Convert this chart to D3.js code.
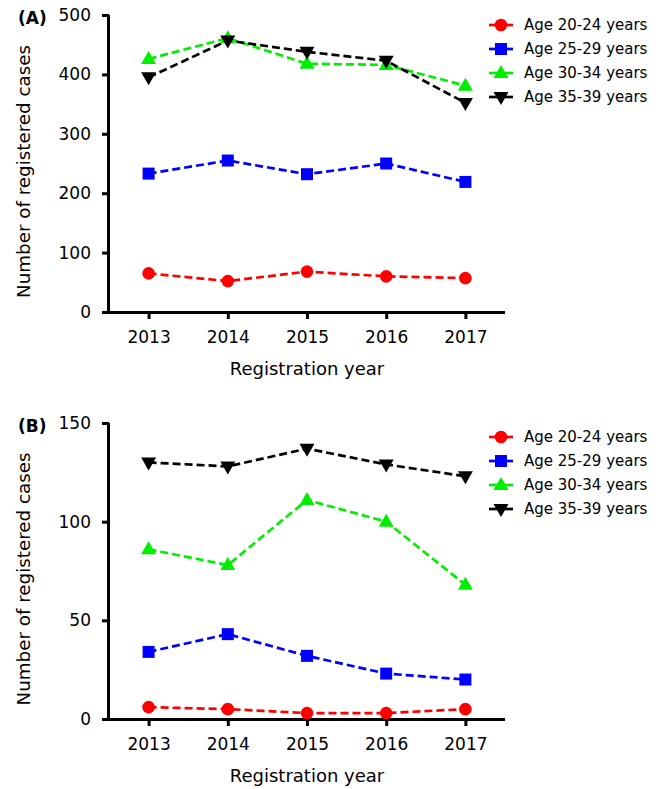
<!DOCTYPE html>
<html>
<head>
<meta charset="utf-8">
<script src="https://cdn.jsdelivr.net/npm/d3@7"></script>
<style>
  body { margin: 0; background: #fff; }
  svg { display: block; font-family: "DejaVu Sans", sans-serif; }
  .tick text { font-size: 17px; fill: #000; }
</style>
</head>
<body>
<svg width="662" height="789"></svg>
<script>
const years = [2013, 2014, 2015, 2016, 2017];
const groups = ["Age 20-24 years", "Age 25-29 years", "Age 30-34 years", "Age 35-39 years"];
const colors = ["#ff0000", "#0000ff", "#00ee00", "#000000"];
const shapes = ["circle", "square", "up", "down"];

// panel A
const a2024 = [65, 52, 68, 60, 57];
const a2529 = [233, 255, 232, 250, 219];
const a3034 = [426, 461, 418, 416, 381];
const a3539 = [395, 457, 438, 423, 352];

// panel B
const b2024 = [6, 5, 3, 3, 5];
const b2529 = [34, 43, 32, 23, 20];
const b3034 = [86, 78, 111, 100, 68];
const b3539 = [130, 128, 137, 129, 123];

const yTicksA = [0, 100, 200, 300, 400, 500];
const yTicksB = [0, 50, 100, 150];

const svg = d3.select("svg");

function drawMarker(g, shape, color, x, y) {
  if (shape === "circle") {
    g.append("circle").attr("cx", x).attr("cy", y).attr("r", 6.3).attr("fill", color);
  } else if (shape === "square") {
    g.append("rect").attr("x", x - 6).attr("y", y - 6).attr("width", 12).attr("height", 12).attr("fill", color);
  } else if (shape === "up") {
    g.append("path").attr("d", `M${x},${y - 8}L${x + 7.5},${y + 5}L${x - 7.5},${y + 5}Z`).attr("fill", color);
  } else {
    g.append("path").attr("d", `M${x},${y + 8}L${x + 7.5},${y - 5}L${x - 7.5},${y - 5}Z`).attr("fill", color);
  }
}

function drawPanel(opts) {
  const g = svg.append("g");
  const x = d3.scaleLinear().domain([2012.5, 2017.5]).range([109, 505]);
  const y = d3.scaleLinear().domain([0, opts.max]).range([opts.bottom, opts.top]);

  const xAxis = g.append("g")
    .attr("transform", `translate(0,${opts.bottom})`)
    .call(d3.axisBottom(x).tickValues(years).tickFormat(d3.format("d")).tickSize(7).tickPadding(12));
  xAxis.select(".domain").attr("d", `M102,0.5H505`);

  const yAxis = g.append("g")
    .attr("transform", "translate(109,0)")
    .call(d3.axisLeft(y).tickValues(opts.ticks).tickSize(7).tickPadding(11));
  yAxis.select(".domain").attr("d", `M-0.5,${opts.top}V${opts.bottom}`);

  g.selectAll(".domain, .tick line").attr("stroke", "#000").attr("stroke-width", 3);
  g.selectAll(".tick text").attr("font-family", "DejaVu Sans, sans-serif");

  const line = d3.line().x((d, i) => x(years[i])).y(d => y(d));

  opts.series.forEach((vals, k) => {
    g.append("path")
      .datum(vals)
      .attr("d", line)
      .attr("fill", "none")
      .attr("stroke", colors[k])
      .attr("stroke-width", 2.7)
      .attr("stroke-dasharray", "8,4");
  });
  opts.series.forEach((vals, k) => {
    vals.forEach((v, i) => drawMarker(g, shapes[k], colors[k], x(years[i]), y(v)));
  });

  // legend
  groups.forEach((name, k) => {
    const ly = opts.legendTop + k * 24;
    g.append("line")
      .attr("x1", 489).attr("x2", 513).attr("y1", ly).attr("y2", ly)
      .attr("stroke", colors[k]).attr("stroke-width", 2.7);
    drawMarker(g, shapes[k], colors[k], 501, ly);
    g.append("text")
      .attr("x", 524).attr("y", ly + 5)
      .attr("font-size", 15)
      .text(name);
  });

  g.append("text")
    .attr("x", 18).attr("y", opts.top + 9)
    .attr("font-size", 17).attr("font-weight", "bold")
    .text(opts.label);

  g.append("text")
    .attr("transform", `translate(30,${(opts.top + opts.bottom) / 2 + 8}) rotate(-90)`)
    .attr("text-anchor", "middle")
    .attr("font-size", 18.3)
    .text("Number of registered cases");

  g.append("text")
    .attr("x", 307).attr("y", opts.bottom + 63)
    .attr("text-anchor", "middle")
    .attr("font-size", 18)
    .text("Registration year");
}

drawPanel({
  label: "(A)", top: 15, bottom: 312, max: 500, ticks: yTicksA, legendTop: 25,
  series: [a2024, a2529, a3034, a3539]
});

drawPanel({
  label: "(B)", top: 423, bottom: 719, max: 150, ticks: yTicksB, legendTop: 437,
  series: [b2024, b2529, b3034, b3539]
});
</script>
</body>
</html>
